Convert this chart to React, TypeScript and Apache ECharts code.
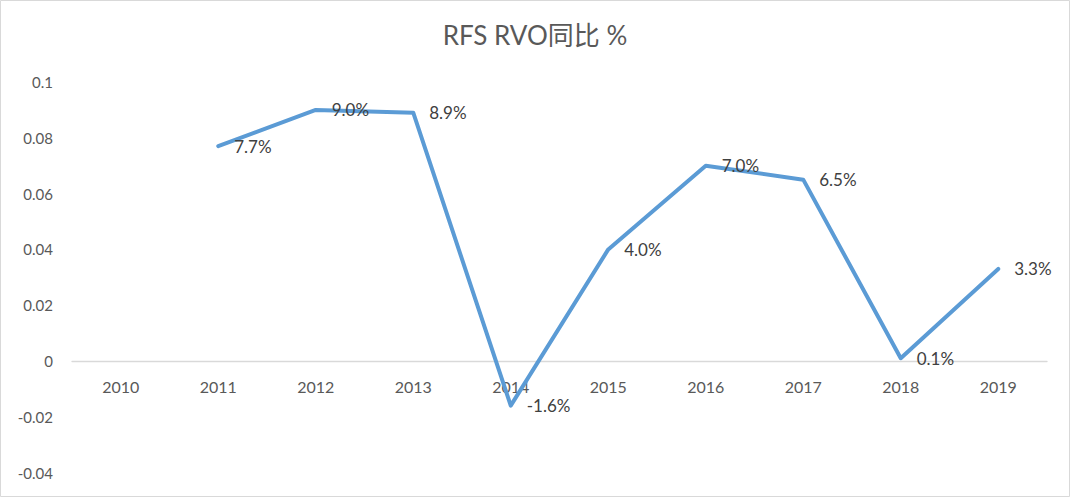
import React, { useEffect, useRef } from "react";
import * as echarts from "echarts";

const years = ["2010", "2011", "2012", "2013", "2014", "2015", "2016", "2017", "2018", "2019"];
const yoy: (number | null)[] = [null, 0.077, 0.09, 0.089, -0.016, 0.04, 0.07, 0.065, 0.001, 0.033];
const titleText = "RFS RVO同比 %";

export default function App() {
  const ref = useRef<HTMLDivElement>(null);
  useEffect(() => {
    const chart = echarts.init(ref.current!, undefined, { renderer: "svg" });
    const font = "Lato, 'Noto Sans CJK SC', sans-serif";
    const gridTop = 82;
    const gridBottomPx = 472.6;
    const zeroY = gridTop + ((gridBottomPx - gridTop) * 0.1) / 0.14;
    chart.setOption({
      animation: false,
      backgroundColor: "#ffffff",
      title: {
        text: titleText,
        left: "center",
        top: 17,
        textStyle: { fontFamily: font, fontSize: 26, fontWeight: "normal", color: "#595959" },
      },
      grid: { left: 72, right: 23, top: gridTop, bottom: 497 - gridBottomPx, outerBoundsMode: "none", containLabel: false },
      xAxis: {
        type: "category",
        data: years,
        boundaryGap: true,
        position: "bottom",
        offset: -(gridBottomPx - zeroY),
        axisLine: { onZero: false, lineStyle: { color: "#D9D9D9", width: 1.3 } },
        axisTick: { show: false },
        axisLabel: { color: "#595959", fontFamily: font, fontSize: 16, margin: 17 },
      },
      yAxis: {
        type: "value",
        min: -0.04,
        max: 0.1,
        interval: 0.02,
        splitLine: { show: false },
        axisLine: { show: false },
        axisTick: { show: false },
        axisLabel: {
          color: "#595959",
          fontFamily: font,
          fontSize: 15,
          margin: 19,
          formatter: (v: number) => String(Math.round(v * 100) / 100),
        },
      },
      series: [
        {
          type: "line",
          data: yoy,
          symbol: "circle",
          symbolSize: 2,
          showSymbol: true,
          itemStyle: { color: "rgba(0,0,0,0)", borderWidth: 0 },
          connectNulls: false,
          lineStyle: { color: "#5B9BD5", width: 4, cap: "round", join: "round" },
          label: {
            show: true,
            position: "right",
            distance: 15,
            color: "#404040",
            fontFamily: font,
            fontSize: 17,
            formatter: (p: any) => (p.value * 100).toFixed(1) + "%",
          },
          labelLayout: { hideOverlap: false },
        },
      ],
      graphic: [
        {
          type: "rect",
          shape: { x: 0.5, y: 0.5, width: 1069, height: 496 },
          style: { fill: "none", stroke: "#D9D9D9", lineWidth: 1 },
          silent: true,
        },
      ],
    });
    return () => chart.dispose();
  }, []);
  return (
    <div
      ref={ref}
      style={{ position: "fixed", left: 0, top: 0, width: 1070, height: 497 }}
    />
  );
}
